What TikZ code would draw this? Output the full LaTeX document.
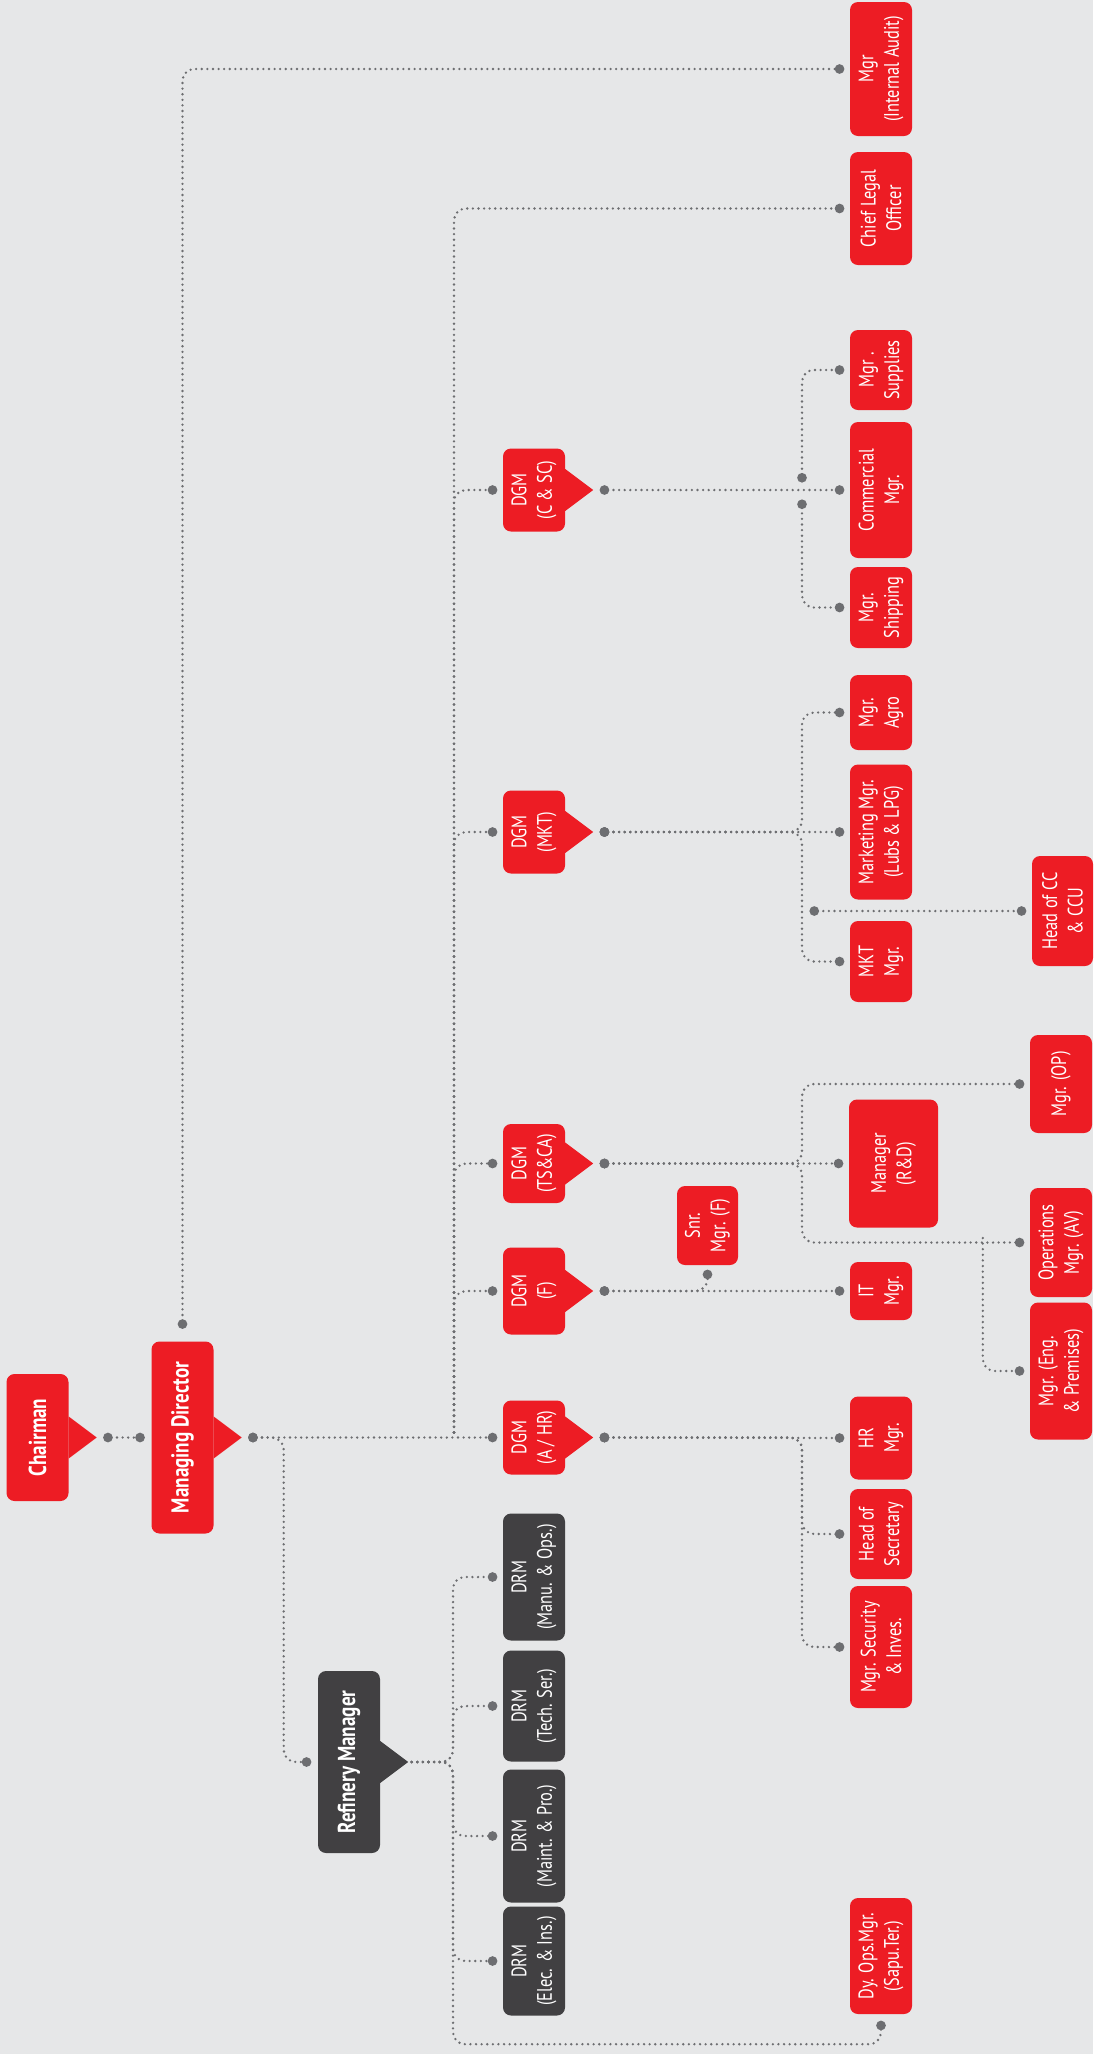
\documentclass[tikz,border=0pt]{standalone}
\usepackage{fontspec}
\setmainfont{PT Sans}[FakeStretch=0.78]
\usetikzlibrary{arrows.meta}

\definecolor{orgred}{HTML}{ED1C24}
\definecolor{orgdark}{HTML}{414042}
\definecolor{orgbg}{HTML}{E6E7E8}
\definecolor{linkgrey}{HTML}{6D6E71}

\tikzset{
  box/.style={rectangle, rounded corners=8pt, fill=orgred, text=white, rotate=90,
    inner sep=0pt, align=center, minimum height=62pt, font=\fontsize{21}{25.5}\selectfont},
  darkbox/.style={box, fill=orgdark},
  title/.style={font=\fontsize{24.5}{28}\selectfont\bfseries},
  link/.style={draw=linkgrey, line width=2.6pt, line cap=round, dash pattern=on 0pt off 5.6pt,
    rounded corners=12pt, shorten <=-4.5pt, shorten >=-4.5pt},
}

\begin{document}
\begin{tikzpicture}[x=1pt, y=-1pt, >={Circle[length=9.5pt]}]
  \path[fill=orgbg, use as bounding box] (0,0) rectangle (1093,2054);

  % top of the chart
  \node[box, title, minimum width=127pt] (chair) at (37.5,1437.5) {Chairman};
  \node[box, title, minimum width=192pt] (md) at (182.5,1437.5) {Managing Director};
  \node[darkbox, title, minimum width=182pt] (rm) at (349,1762) {Refinery Manager};

  % deputy general managers
  \node[box, minimum width=83pt] (dgmcsc) at (534,490) {DGM\\(C \& SC)};
  \node[box, minimum width=83pt] (dgmmkt) at (534,832) {DGM\\(MKT)};
  \node[box, minimum width=79pt] (dgmts) at (534,1163.5) {DGM\\(TS\&CA)};
  \node[box, minimum width=87pt] (dgmf) at (534,1291) {DGM\\(F)};
  \node[box, minimum width=74pt] (dgmhr) at (534,1437.5) {DGM\\(A / HR)};

  % refinery
  \node[darkbox, minimum width=127pt] (drmmanu) at (534,1577) {DRM\\(Manu. \& Ops.)};
  \node[darkbox, minimum width=111pt] (drmtech) at (534,1706) {DRM\\(Tech. Ser.)};
  \node[darkbox, minimum width=133pt] (drmmaint) at (534,1836) {DRM\\(Maint. \& Pro.)};
  \node[darkbox, minimum width=109pt] (drmelec) at (534,1961) {DRM\\(Elec. \& Ins.)};

  % managers
  \node[box, minimum width=134pt] (audit) at (881,69) {Mgr\\(Internal Audit)};
  \node[box, minimum width=113pt] (legal) at (881,208.5) {Chief Legal\\Officer};
  \node[box, minimum width=80pt] (supplies) at (881,370) {Mgr .\\Supplies};
  \node[box, minimum width=136pt] (commercial) at (881,490) {Commercial\\Mgr.};
  \node[box, minimum width=81pt] (shipping) at (881,607.5) {Mgr.\\Shipping};
  \node[box, minimum width=75pt] (agro) at (881,712.5) {Mgr.\\Agro};
  \node[box, minimum width=135pt] (marketing) at (881,832) {Marketing Mgr.\\(Lubs \& LPG)};
  \node[box, minimum width=81pt] (mktmgr) at (881,961.5) {MKT\\Mgr.};
  \node[box, minimum width=128pt, minimum height=89pt] (rnd) at (893.5,1163.5) {Manager\\(R\&D)};
  \node[box, minimum width=79pt, minimum height=61pt] (snr) at (707.5,1225.5) {Snr.\\Mgr. (F)};
  \node[box, minimum width=58pt] (itmgr) at (881,1291) {IT\\Mgr.};
  \node[box, minimum width=83pt] (hrmgr) at (881,1438) {HR\\Mgr.};
  \node[box, minimum width=90pt] (secretary) at (881,1534) {Head of\\Secretary};
  \node[box, minimum width=122pt] (security) at (881,1647) {Mgr. Security\\\& Inves.};
  \node[box, minimum width=116pt] (dyops) at (881,1956) {Dy. Ops.Mgr.\\(Sapu.Ter.)};
  \node[box, minimum width=98pt] (mgrop) at (1061,1084) {Mgr. (OP)};
  \node[box, minimum width=109pt] (opsav) at (1061,1242.5) {Operations\\Mgr. (AV)};
  \node[box, minimum width=137pt] (engprem) at (1061,1371) {Mgr. (Eng.\\\& Premises)};
  \node[box, minimum width=110pt, minimum height=61pt] (headcc) at (1062.5,911) {Head of CC\\\& CCU};

  \foreach \n/\c in {chair/orgred, md/orgred, rm/orgdark, dgmhr/orgred, dgmf/orgred,
                     dgmts/orgred, dgmmkt/orgred, dgmcsc/orgred}
    \fill[\c] ([yshift=21pt]\n.south) -- ++(28,21) -- ++(-28,21) -- cycle;

  \coordinate (dgmbus) at (454,1428);
  \coordinate (rmbus) at (453,1762);
  \coordinate (hrbus) at (802,1437.5);
  \coordinate (tsbus) at (802,1163.5);
  \coordinate (mktbus) at (802,832);
  \coordinate (ccfeed) at (814,911);
  \coordinate (cscup) at (802,478);
  \coordinate (cscdown) at (802,504);

  % managing director
  \draw[link,<->] ([xshift=39pt]chair.south) -- ([xshift=-11pt]md.north);
  \draw[link,<->] ([yshift=17pt]md.east) |- ([xshift=-10pt]audit.north);
  \draw[link,<->] ([xshift=39pt]md.south) -- ([xshift=-10pt]dgmhr.north);
  \draw[link,<->] ([xshift=39pt]md.south) -- ++(31,0) |- ([xshift=-11pt]rm.north);
  \foreach \n in {dgmf, dgmts, dgmmkt, dgmcsc, legal}
    \draw[link,->] (dgmbus) |- ([xshift=-10pt]\n.north);

  % refinery manager
  \foreach \n in {drmmanu, drmtech, drmmaint, drmelec}
    \draw[link,->] ([xshift=36pt]rm.south) -- (rmbus) |- ([xshift=-10pt]\n.north);
  \draw[link,->] ([xshift=36pt]rm.south) -- (rmbus) |- ([yshift=-30pt]dyops.west)
    -- ([yshift=-11pt]dyops.west);

  % A / HR
  \draw[link,<->] ([xshift=39pt]dgmhr.south) -- ([xshift=-10pt]hrmgr.north);
  \foreach \n in {secretary, security}
    \draw[link,<->] ([xshift=39pt]dgmhr.south) -- (hrbus) |- ([xshift=-10pt]\n.north);

  % F
  \draw[link,<->] ([xshift=39pt]dgmf.south) -- ([xshift=-10pt]itmgr.north);
  \draw[link,<->] ([xshift=39pt]dgmf.south) -| ([yshift=-9pt]snr.west);

  % TS&CA
  \draw[link,<->] ([xshift=39pt]dgmts.south) -- ([xshift=-10pt]rnd.north);
  \foreach \n in {mgrop, opsav}
    \draw[link,<->] ([xshift=39pt]dgmts.south) -- (tsbus) |- ([xshift=-10pt]\n.north);
  \draw[link,->] ([xshift=-47pt]opsav.north) |- ([xshift=-10pt]engprem.north);

  % MKT
  \draw[link,<->] ([xshift=39pt]dgmmkt.south) -- ([xshift=-10pt]marketing.north);
  \foreach \n in {agro, mktmgr}
    \draw[link,<->] ([xshift=39pt]dgmmkt.south) -- (mktbus) |- ([xshift=-10pt]\n.north);
  \draw[link,<->] (ccfeed) -- ([xshift=-10pt]headcc.north);

  % C & SC
  \draw[link,<->] ([xshift=39pt]dgmcsc.south) -- ([xshift=-10pt]commercial.north);
  \draw[link,<->] (cscup) |- ([xshift=-10pt]supplies.north);
  \draw[link,<->] (cscdown) |- ([xshift=-10pt]shipping.north);
\end{tikzpicture}
\end{document}
